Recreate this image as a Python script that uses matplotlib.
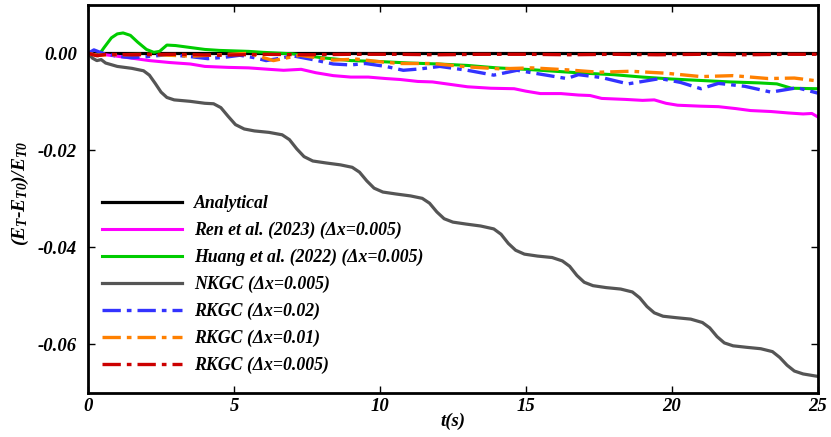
import matplotlib
matplotlib.use('Agg')
import matplotlib.pyplot as plt

plt.rcParams['font.family'] = ['Liberation Serif', 'DejaVu Serif']
plt.rcParams['font.weight'] = 'bold'
plt.rcParams['font.style'] = 'italic'
plt.rcParams['axes.labelweight'] = 'bold'
plt.rcParams['mathtext.fontset'] = 'custom'
plt.rcParams['mathtext.it'] = 'Liberation Serif:bold:italic'
plt.rcParams['mathtext.rm'] = 'Liberation Serif:bold:italic'
plt.rcParams['axes.unicode_minus'] = False

# Analytical
t_ana = [0.0, 25.0]
e_ana = [0.0, 0.0]

# Ren et al. (2023)
t_ren = [0, 0.3, 0.6, 1.0, 1.5, 2.1, 2.8, 3.5, 4.0, 4.8,
         5.5, 6.2, 6.7, 7.3, 7.8, 8.4, 9.0, 9.6, 10.2, 10.7,
         11.3, 11.8, 12.4, 13.0, 13.8, 14.6, 15.0, 15.5, 16.2, 16.8,
         17.2, 17.6, 18.4, 19.0, 19.4, 19.8, 20.2, 21.0, 21.6, 22.2,
         22.7, 23.4, 24.0, 24.5, 24.8, 25.0]
e_ren = [0, -0.0004, -0.0003, -0.0006, -0.0010, -0.0015, -0.0019, -0.0022, -0.0027, -0.0029,
         -0.0030, -0.0033, -0.0035, -0.0033, -0.0040, -0.0046, -0.0049, -0.0049, -0.0052, -0.0054,
         -0.0058, -0.0059, -0.0064, -0.0069, -0.0072, -0.0073, -0.0078, -0.0083, -0.0083, -0.0086,
         -0.0087, -0.0093, -0.0095, -0.0097, -0.0096, -0.0103, -0.0107, -0.0109, -0.0110, -0.0114,
         -0.0118, -0.0120, -0.0123, -0.0125, -0.0124, -0.0131]

# Huang et al. (2022)
t_huang = [0, 0.2, 0.35, 0.55, 0.8, 1.0, 1.2, 1.45, 1.7, 2.0,
           2.25, 2.45, 2.7, 3.0, 3.5, 4.0, 4.5, 5.0, 5.5, 6.0,
           7.0, 8.0, 9.0, 10.0, 11.0, 12.0, 13.0, 14.0, 15.0, 16.0,
           17.0, 18.0, 19.0, 20.0, 21.0, 22.0, 23.0, 23.6, 24.1, 25.0]
e_huang = [0, -0.0003, -0.0005, 0.0012, 0.0032, 0.0040, 0.0042, 0.0037, 0.0023, 0.0008,
           0.0002, 0.0004, 0.0017, 0.0016, 0.0012, 0.0008, 0.0006, 0.0005, 0.0004, 0.0002,
           -0.0001, -0.0009, -0.0015, -0.0017, -0.0020, -0.0022, -0.0025, -0.0030, -0.0033, -0.0037,
           -0.0041, -0.0044, -0.0049, -0.0053, -0.0056, -0.0059, -0.0061, -0.0063, -0.0072, -0.0073]

# NKGC (dx=0.005)
t_nkgc = [0.0, 0.15, 0.3, 0.45, 0.6, 1.0, 1.5, 1.9, 2.1, 2.3,
          2.5, 2.7, 2.95, 3.5, 4.0, 4.3, 4.55, 4.8, 5.05, 5.35,
          5.7, 6.2, 6.65, 6.9, 7.15, 7.4, 7.7, 8.15, 8.65, 9.05,
          9.3, 9.55, 9.8, 10.1, 10.55, 11.05, 11.45, 11.7, 11.95, 12.2,
          12.5, 12.95, 13.45, 13.9, 14.15, 14.4, 14.65, 14.95, 15.4, 15.9,
          16.25, 16.5, 16.75, 17.0, 17.3, 17.75, 18.25, 18.65, 18.9, 19.15,
          19.4, 19.7, 20.15, 20.65, 21.05, 21.3, 21.55, 21.8, 22.1, 22.55,
          23.05, 23.45, 23.7, 23.95, 24.2, 24.5, 24.8, 25.0]
e_nkgc = [0.0, -0.0010, -0.0015, -0.0013, -0.0020, -0.0027, -0.0031, -0.0036, -0.0045, -0.0062,
          -0.0080, -0.0091, -0.0096, -0.0099, -0.0103, -0.0104, -0.0112, -0.0130, -0.0147, -0.0156,
          -0.0160, -0.0163, -0.0168, -0.0178, -0.0197, -0.0213, -0.0222, -0.0226, -0.0230, -0.0235,
          -0.0245, -0.0263, -0.0278, -0.0286, -0.0290, -0.0294, -0.0299, -0.0309, -0.0327, -0.0341,
          -0.0348, -0.0352, -0.0356, -0.0362, -0.0373, -0.0392, -0.0406, -0.0414, -0.0418, -0.0421,
          -0.0428, -0.0439, -0.0458, -0.0472, -0.0479, -0.0483, -0.0486, -0.0492, -0.0504, -0.0522,
          -0.0535, -0.0542, -0.0545, -0.0548, -0.0555, -0.0566, -0.0584, -0.0597, -0.0603, -0.0606,
          -0.0609, -0.0615, -0.0627, -0.0643, -0.0655, -0.0661, -0.0664, -0.0666]

# RKGC (dx=0.02)
t_rk02 = [0, 0.2, 0.5, 1.0, 1.5, 2.0, 2.7, 3.4, 4.1, 4.7,
          5.2, 5.7, 6.1, 6.6, 7.0, 7.7, 8.4, 9.0, 9.5, 10.2,
          10.8, 11.4, 12.05, 13.0, 13.9, 14.7, 15.5, 16.4, 16.8, 17.6,
          18.5, 19.0, 19.6, 20.3, 21.0, 21.6, 22.5, 23.4, 24.3, 25.0]
e_rk02 = [0, 0.0007, 0.0, -0.0006, -0.0009, -0.0007, -0.0003, -0.0006, -0.0011, -0.0008,
          -0.0004, -0.0009, -0.0015, -0.0010, -0.0005, -0.0013, -0.0022, -0.0024, -0.0021, -0.0027,
          -0.0035, -0.0032, -0.0027, -0.0035, -0.0045, -0.0035, -0.0043, -0.0052, -0.0044, -0.0050,
          -0.0063, -0.0058, -0.0052, -0.0060, -0.0073, -0.0062, -0.0068, -0.0080, -0.0071, -0.0082]

# RKGC (dx=0.01)
t_rk01 = [0, 0.3, 1.0, 2.0, 2.8, 3.5, 4.5, 5.5, 6.35, 7.26,
          8.4, 9.2, 10.1, 10.7, 11.8, 13.0, 14.1, 15.2, 16.4, 17.5,
          18.6, 19.8, 21.0, 22.1, 23.3, 24.2, 25.0]
e_rk01 = [0, -0.0004, -0.0003, -0.0002, -0.0004, -0.0006, -0.0003, 0.0, -0.0015, -0.0004,
          -0.0014, -0.0012, -0.0018, -0.0021, -0.0021, -0.0028, -0.0032, -0.0030, -0.0034, -0.0039,
          -0.0037, -0.0041, -0.0048, -0.0046, -0.0052, -0.0051, -0.0057]

# RKGC (dx=0.005)
t_rk005 = [0, 0.3, 0.6, 1.5, 3.0, 4.5, 6.0, 7.5, 9.0, 10.5,
           12.0, 13.5, 15.0, 16.5, 18.0, 19.5, 21.0, 22.5, 24.0, 25.0]
e_rk005 = [0, -0.0005, -0.0002, -0.0003, -0.0002, -0.0004, -0.0002, -0.0003, -0.0002, -0.0002,
           -0.0003, -0.0002, -0.0002, -0.0003, -0.0002, -0.0003, -0.0002, -0.0003, -0.0002, -0.0002]

x_ticks = [0, 5, 10, 15, 20, 25]
y_ticks = [0.00, -0.02, -0.04, -0.06]

fig = plt.figure(figsize=(8.31, 4.37), dpi=100)
ax = fig.add_axes([0.106, 0.101, 0.878, 0.888])

dd = (5.5, 1.8, 1.4, 1.8)
ax.plot(t_ana, e_ana, color='black', lw=2.3, label='Analytical')
ax.plot(t_ren, e_ren, color='#ff00ff', lw=2.2, label='Ren et al. (2023) (Δx=0.005)')
ax.plot(t_huang, e_huang, color='#00cc00', lw=2.2, label='Huang et al. (2022) (Δx=0.005)')
ax.plot(t_nkgc, e_nkgc, color='#555555', lw=2.3, label='NKGC (Δx=0.005)')
ax.plot(t_rk02, e_rk02, color='#3333ff', lw=2.4, dashes=dd, label='RKGC (Δx=0.02)')
ax.plot(t_rk01, e_rk01, color='#ff8000', lw=2.4, dashes=dd, label='RKGC (Δx=0.01)')
ax.plot(t_rk005, e_rk005, color='#cc0000', lw=2.4, dashes=dd, label='RKGC (Δx=0.005)')

ax.set_xlim(0, 25)
ax.set_ylim(-0.07, 0.01)
ax.set_xticks(x_ticks)
ax.set_yticks(y_ticks)
ax.set_yticklabels(['%.2f' % v for v in y_ticks])
ax.tick_params(direction='in', top=True, right=True, length=5, width=1, labelsize=13.5)
ax.tick_params(axis='x', pad=4)
ax.tick_params(axis='y', pad=8)
for s in ax.spines.values():
    s.set_linewidth(2)

ax.set_xlabel('t(s)', fontsize=13.5, fontweight='bold')
ax.xaxis.set_label_coords(0.5, -0.05)
ax.set_ylabel(r'$(E_T$-$E_{T0})/E_{T0}$', fontsize=14, fontweight='bold')
ax.yaxis.set_label_coords(-0.078, 0.515)

ax.legend(loc='upper left', bbox_to_anchor=(-0.003, 0.55), frameon=False, fontsize=12.8,
          handlelength=4.5, handletextpad=0.7, labelspacing=0.54)

fig.savefig('out.png', dpi=100)
